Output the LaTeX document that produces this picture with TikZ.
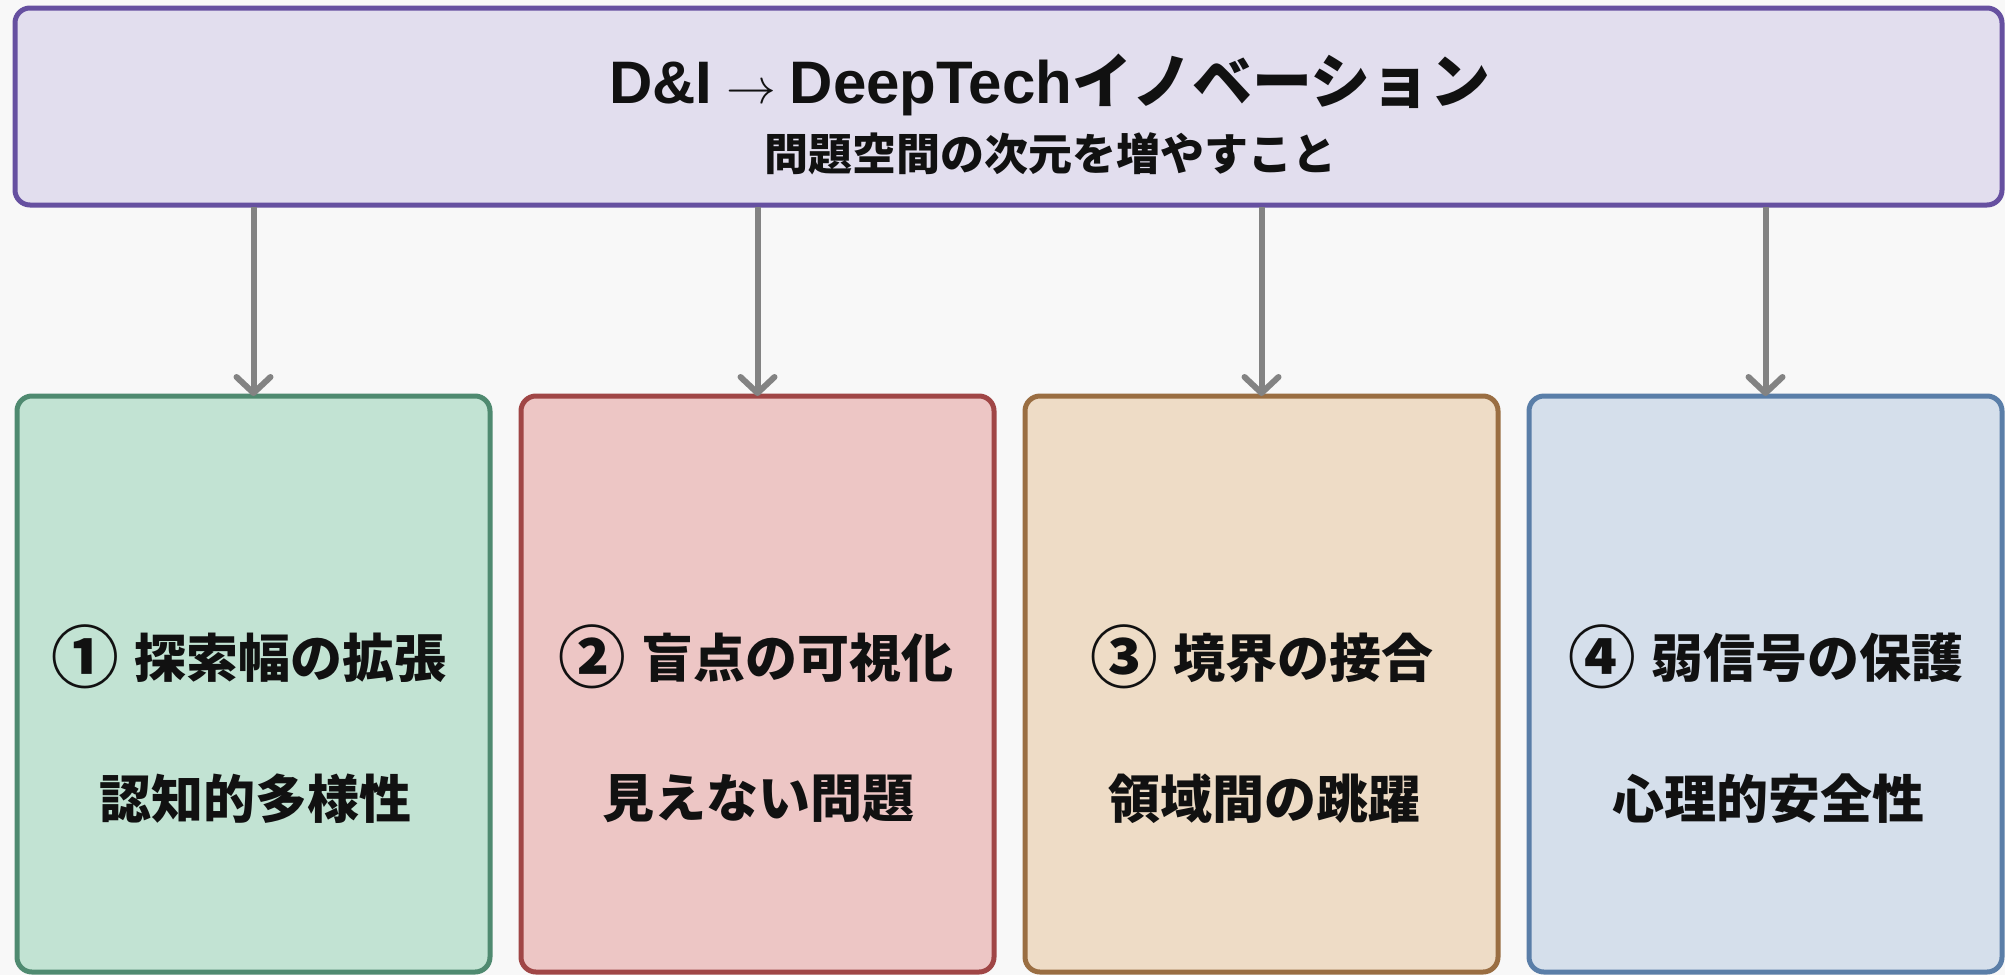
\documentclass[tikz,border=0pt]{standalone}
\usepackage{fontspec}
\setmainfont{Noto Sans CJK JP}
\newfontfamily\heavy{Noto Sans CJK JP Black}
\newfontfamily\latfont{Liberation Sans}
\usetikzlibrary{arrows.meta}
\definecolor{bgc}{HTML}{F8F8F8}
\definecolor{topfill}{HTML}{E2DEEE}
\definecolor{topdraw}{HTML}{6650A0}
\definecolor{gfill}{HTML}{C2E3D3}
\definecolor{gdraw}{HTML}{4F8A70}
\definecolor{rfill}{HTML}{EDC6C5}
\definecolor{rdraw}{HTML}{A04646}
\definecolor{ofill}{HTML}{EEDCC6}
\definecolor{odraw}{HTML}{9A6E42}
\definecolor{bfill}{HTML}{D5DFEB}
\definecolor{bdraw}{HTML}{5A7EA8}
\definecolor{arrc}{HTML}{838383}
\definecolor{txt}{HTML}{111111}
\newcommand{\circnum}[1]{\raisebox{-0.1em}{\scalebox{1.3}{#1}}\hspace{0.3em}}
\tikzset{
  boxstyle/.style={line width=2.5pt, rounded corners=7.5pt},
  conn/.style={draw=arrc, line width=3pt, -{Straight Barb[length=8pt,width=17pt,line cap=round,line join=round]}},
  lineone/.style={font=\heavy\fontsize{26}{30}\selectfont, text=txt, inner sep=0pt},
  linetwo/.style={font=\heavy\fontsize{26}{30}\selectfont, text=txt, inner sep=0pt},
}
\begin{document}
\begin{tikzpicture}[x=0.5pt,y=-0.5pt]
\useasboundingbox (0,0) rectangle (2005,975);
\fill[bgc] (0,0) rectangle (2005,975);
% top box
\draw[boxstyle, fill=topfill, draw=topdraw] (15,8) rectangle (2002,205);
\node[font=\heavy\fontsize{30}{34}\selectfont, text=txt, inner sep=0pt] (title) at (1050,85)
  {{\latfont\bfseries D\&I} $\rightarrow$ {\latfont\bfseries DeepTech}イノベーション};
\node[font=\heavy\fontsize{22}{26}\selectfont, text=txt, inner sep=0pt] (sub) at (1050,154) {問題空間の次元を増やすこと};
% bottom boxes
\draw[boxstyle, fill=gfill, draw=gdraw] (17,396) rectangle (490,972);
\draw[boxstyle, fill=rfill, draw=rdraw] (521,396) rectangle (994,972);
\draw[boxstyle, fill=ofill, draw=odraw] (1025,396) rectangle (1498,972);
\draw[boxstyle, fill=bfill, draw=bdraw] (1529,396) rectangle (2002,972);
\coordinate (b1) at (253.5,396);
\coordinate (b2) at (757.5,396);
\coordinate (b3) at (1261.5,396);
\coordinate (b4) at (1765.5,396);
\coordinate (t1) at (253.5,207);
\coordinate (t2) at (757.5,207);
\coordinate (t3) at (1261.5,207);
\coordinate (t4) at (1765.5,207);
\node[lineone] (a1) at (249,657) {\circnum{①}探索幅の拡張};
\node[linetwo] (a2) at (255,799) {認知的多様性};
\node[lineone] (c1) at (756,657) {\circnum{②}盲点の可視化};
\node[linetwo] (c2) at (758,799) {見えない問題};
\node[lineone] (d1) at (1262,657) {\circnum{③}境界の接合};
\node[linetwo] (d2) at (1264,799) {領域間の跳躍};
\node[lineone] (e1) at (1766,657) {\circnum{④}弱信号の保護};
\node[linetwo] (e2) at (1768,799) {心理的安全性};
\foreach \i in {1,2,3,4}{
  \draw[conn] (t\i) -- (b\i);
}
\end{tikzpicture}
\end{document}
